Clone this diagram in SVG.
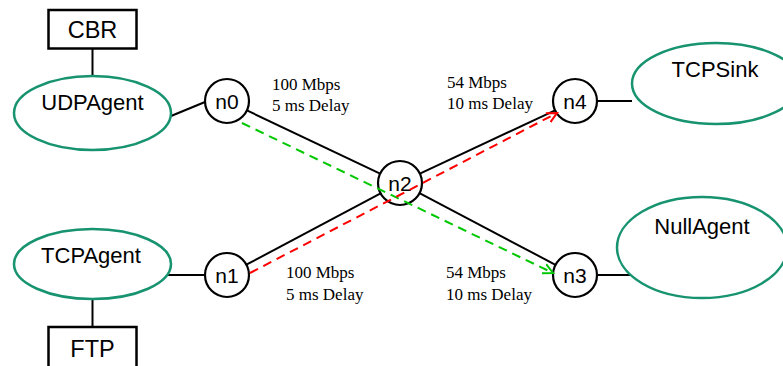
<svg xmlns="http://www.w3.org/2000/svg" width="783" height="366" viewBox="0 0 783 366">
<defs>
<style>
.box{fill:#fff;stroke:#000;stroke-width:2.5}
.agent{fill:#fff;stroke:#17936f;stroke-width:2.5}
.node{fill:#fff;stroke:#000;stroke-width:2.2}
.t{font-family:"Liberation Sans",Arial,sans-serif;font-size:22px;fill:#000;text-anchor:middle}
.bt{font-family:"Liberation Sans",Arial,sans-serif;font-size:23.5px;fill:#000;text-anchor:middle}
.nt{font-family:"Liberation Sans",Arial,sans-serif;font-size:21px;fill:#000;text-anchor:middle}
.lbl{font-family:"Liberation Serif","Times New Roman",serif;font-size:17px;fill:#000}
.link{stroke:#000;stroke-width:2;fill:none}
.green{stroke:#00c800;stroke-width:2;stroke-dasharray:9 6;fill:none}
.red{stroke:#ff0000;stroke-width:2;stroke-dasharray:9 6;fill:none}
</style>
<marker id="ag" markerWidth="12" markerHeight="12" refX="10" refY="5" orient="auto" markerUnits="userSpaceOnUse" viewBox="0 0 12 10">
<path d="M0,0 L10,5 L0,10" fill="none" stroke="#00c800" stroke-width="2"/>
</marker>
<marker id="ar" markerWidth="12" markerHeight="12" refX="10" refY="5" orient="auto" markerUnits="userSpaceOnUse" viewBox="0 0 12 10">
<path d="M0,0 L10,5 L0,10" fill="none" stroke="#ff0000" stroke-width="2"/>
</marker>
</defs>
<rect width="783" height="366" fill="#fff"/>
<g id="connectors">
<line class="link" x1="92.5" y1="48" x2="92.5" y2="76"/>
<line class="link" x1="92.5" y1="299" x2="92.5" y2="327"/>
<line class="link" x1="171" y1="116" x2="205" y2="102"/>
<line class="link" x1="167" y1="275" x2="205" y2="275"/>
<line class="link" x1="597" y1="101" x2="632" y2="101"/>
<line class="link" x1="597" y1="275" x2="632" y2="275"/>
<line class="link" x1="246.9" y1="110.4" x2="380.1" y2="173.6"/>
<line class="link" x1="246.4" y1="264.7" x2="380.6" y2="193.3"/>
<line class="link" x1="419.9" y1="173.7" x2="555.1" y2="110.3"/>
<line class="link" x1="419.5" y1="193.2" x2="555.5" y2="264.8"/>
</g>
<g id="CBR"><rect class="box" x="48.5" y="10" width="88" height="38.5"/><text class="bt" x="92.5" y="38">CBR</text></g>
<g id="FTP"><rect class="box" x="48.5" y="327" width="88" height="45"/><text class="bt" x="92.5" y="357">FTP</text></g>
<g id="UDPAgent"><ellipse class="agent" cx="92.5" cy="113" rx="78.5" ry="37"/><text class="t" x="92.5" y="110">UDPAgent</text></g>
<g id="TCPAgent"><ellipse class="agent" cx="92.5" cy="264" rx="78.5" ry="35"/><text class="t" x="91" y="263">TCPAgent</text></g>
<g id="TCPSink"><ellipse class="agent" cx="716" cy="83.5" rx="84" ry="40.5"/><text class="t" x="715" y="77">TCPSink</text></g>
<g id="NullAgent"><ellipse class="agent" cx="702" cy="247.5" rx="85" ry="50.5"/><text class="t" x="702" y="234">NullAgent</text></g>
<g id="n0"><circle class="node" cx="227" cy="101" r="22"/><text class="nt" x="227" y="108.5">n0</text></g>
<g id="n1"><circle class="node" cx="227" cy="275" r="22"/><text class="nt" x="227" y="282.5">n1</text></g>
<g id="n2"><circle class="node" cx="400" cy="183" r="22"/><text class="nt" x="400" y="190.5">n2</text></g>
<g id="n3"><circle class="node" cx="575" cy="275" r="22"/><text class="nt" x="575" y="282.5">n3</text></g>
<g id="n4"><circle class="node" cx="575" cy="101" r="22"/><text class="nt" x="575" y="108.5">n4</text></g>
<g id="flows">
<line class="green" x1="242" y1="123" x2="553" y2="273" marker-end="url(#ag)"/>
<line class="red" x1="250" y1="273" x2="557" y2="113" marker-end="url(#ar)"/>
</g>
<g id="labels">
<text class="lbl" x="272" y="90">100 Mbps</text>
<text class="lbl" x="272" y="111">5 ms Delay</text>
<text class="lbl" x="447" y="88">54 Mbps</text>
<text class="lbl" x="447" y="109">10 ms Delay</text>
<text class="lbl" x="286" y="278">100 Mbps</text>
<text class="lbl" x="286" y="300">5 ms Delay</text>
<text class="lbl" x="446" y="278">54 Mbps</text>
<text class="lbl" x="446" y="300">10 ms Delay</text>
</g>
</svg>
